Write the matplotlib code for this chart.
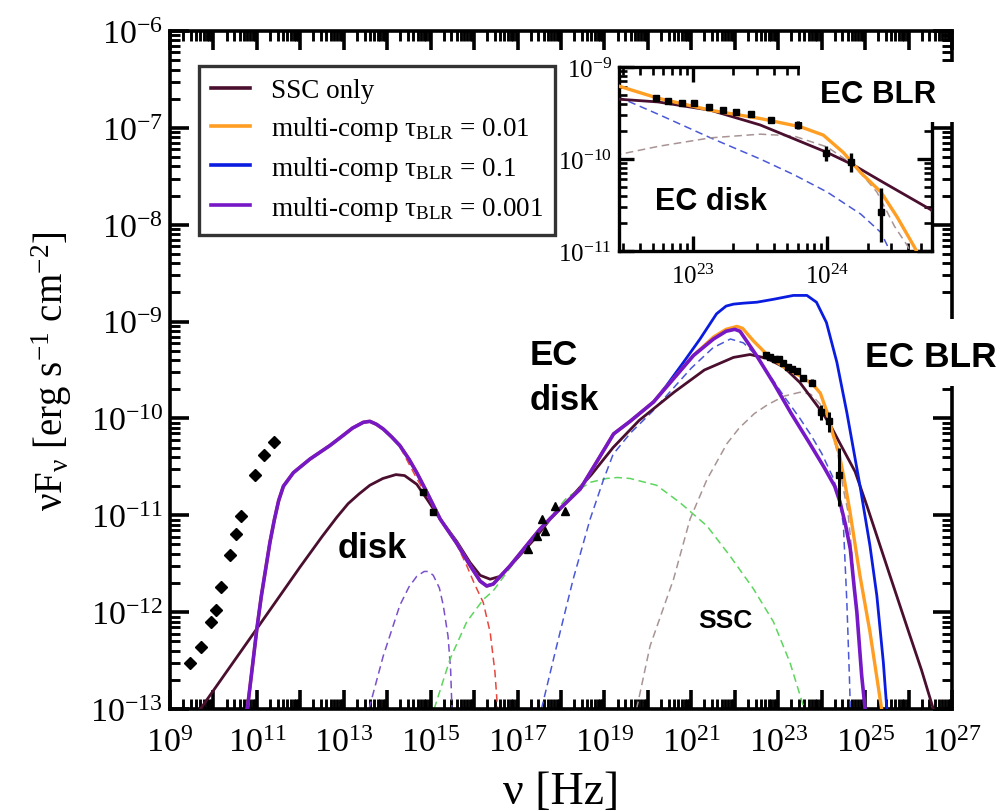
import numpy as np
import matplotlib
matplotlib.use("Agg")
import matplotlib.pyplot as plt
from matplotlib.ticker import FixedLocator, FuncFormatter, NullFormatter, LogLocator
from matplotlib.patches import Rectangle

plt.rcParams['font.family'] = ['Liberation Serif', 'DejaVu Serif']
plt.rcParams['mathtext.fontset'] = 'custom'
plt.rcParams['mathtext.rm'] = 'Liberation Serif'
plt.rcParams['mathtext.it'] = 'Liberation Serif:italic'
plt.rcParams['mathtext.bf'] = 'Liberation Serif:bold'

# ---------------------------------------------------------------- data (log10 values)
# SSC-only model
ssc_lx = [9.70, 11.00, 12.00, 12.50, 12.84, 13.10, 13.35, 13.60, 13.90, 14.20, 14.40, 14.68,
          14.91, 15.22, 15.60, 15.91, 16.14, 16.37, 16.60, 16.98, 17.40, 17.75, 18.20, 18.70,
          19.20, 19.80, 20.60, 21.30, 21.97, 22.35, 22.74, 23.13, 23.50, 24.00, 24.20, 24.40,
          24.77, 25.04, 25.57, 26.00, 26.30, 26.57]
ssc_ly = [-13.00, -12.17, -11.53, -11.22, -11.02, -10.88, -10.78, -10.69, -10.62, -10.58, -10.59, -10.68,
          -10.83, -11.04, -11.27, -11.49, -11.62, -11.66, -11.63, -11.45, -11.24, -11.04, -10.83, -10.58,
          -10.30, -10.02, -9.73, -9.50, -9.37, -9.34, -9.38, -9.47, -9.63, -9.93, -10.07, -10.24,
          -10.55, -10.90, -11.62, -12.20, -12.60, -13.00]

# multi-component model, tau_BLR = 0.001
t001_lx = [10.78, 10.90, 11.00, 11.10, 11.20, 11.30, 11.40, 11.50, 11.61, 11.84, 12.22, 12.68,
           13.00, 13.20, 13.45, 13.60, 13.75, 13.91, 14.10, 14.29, 14.50, 14.68, 14.91, 15.22,
           15.60, 15.91, 16.14, 16.29, 16.44, 16.83, 17.21, 17.52, 17.98, 18.44, 18.82, 19.21,
           19.59, 20.13, 20.59, 21.05, 21.51, 21.80, 22.00, 22.12, 22.50, 22.90, 23.30, 23.70,
           24.05, 24.30, 24.42, 24.55, 24.66, 24.75, 24.81, 24.92, 25.00]
t001_ly = [-13.00, -12.55, -12.17, -11.84, -11.56, -11.28, -11.05, -10.85, -10.70, -10.56, -10.42, -10.28,
           -10.17, -10.10, -10.04, -10.03, -10.06, -10.11, -10.19, -10.28, -10.42, -10.56, -10.76, -11.04,
           -11.29, -11.52, -11.68, -11.73, -11.71, -11.52, -11.31, -11.14, -10.93, -10.73, -10.45, -10.16,
           -10.03, -9.83, -9.59, -9.35, -9.18, -9.10, -9.08, -9.10, -9.35, -9.64, -9.95, -10.24,
           -10.50, -10.70, -10.86, -11.10, -11.35, -11.75, -12.00, -12.65, -13.00]

# multi-component model, tau_BLR = 0.01
t01_lx = [10.78, 10.90, 11.00, 11.10, 11.20, 11.30, 11.40, 11.50, 11.61, 11.84, 12.22, 12.68,
          13.00, 13.20, 13.45, 13.60, 13.75, 13.91, 14.10, 14.29, 14.50, 14.68, 14.91, 15.22,
          15.60, 15.91, 16.14, 16.29, 16.44, 16.83, 17.21, 17.52, 17.98, 18.44, 18.82, 19.21,
          19.59, 20.13, 20.59, 21.05, 21.51, 21.80, 22.05, 22.18, 22.43, 22.74, 23.13, 23.50,
          23.80, 23.97, 24.12, 24.25, 24.40, 24.52, 24.65, 24.88, 25.11, 25.38]
t01_ly = [-13.00, -12.55, -12.17, -11.84, -11.56, -11.28, -11.05, -10.85, -10.70, -10.56, -10.42, -10.28,
          -10.17, -10.10, -10.04, -10.03, -10.06, -10.11, -10.19, -10.28, -10.42, -10.56, -10.76, -11.04,
          -11.29, -11.52, -11.68, -11.73, -11.71, -11.52, -11.31, -11.14, -10.93, -10.73, -10.45, -10.16,
          -10.03, -9.83, -9.59, -9.35, -9.16, -9.08, -9.05, -9.07, -9.20, -9.34, -9.47, -9.56,
          -9.65, -9.74, -9.93, -10.15, -10.36, -10.63, -10.96, -11.62, -12.20, -13.00]

# multi-component model, tau_BLR = 0.1
t1_lx = [10.78, 10.90, 11.00, 11.10, 11.20, 11.30, 11.40, 11.50, 11.61, 11.84, 12.22, 12.68,
         13.00, 13.20, 13.45, 13.60, 13.75, 13.91, 14.10, 14.29, 14.50, 14.68, 14.91, 15.22,
         15.60, 15.91, 16.14, 16.29, 16.44, 16.83, 17.21, 17.52, 17.98, 18.44, 18.82, 19.21,
         19.59, 20.13, 20.43, 20.82, 21.20, 21.58, 21.80, 21.97, 22.20, 22.51, 22.89, 23.35,
         23.66, 23.88, 24.11, 24.35, 24.58, 24.88, 25.11, 25.27, 25.42, 25.50]
t1_ly = [-13.00, -12.55, -12.17, -11.84, -11.56, -11.28, -11.05, -10.85, -10.70, -10.56, -10.42, -10.28,
         -10.17, -10.10, -10.04, -10.03, -10.06, -10.11, -10.19, -10.28, -10.42, -10.56, -10.76, -11.04,
         -11.29, -11.52, -11.68, -11.73, -11.71, -11.52, -11.31, -11.14, -10.93, -10.73, -10.45, -10.16,
         -10.03, -9.83, -9.66, -9.42, -9.18, -8.92, -8.84, -8.82, -8.81, -8.80, -8.77, -8.73,
         -8.73, -8.80, -9.01, -9.42, -9.94, -10.69, -11.31, -11.83, -12.52, -13.00]

# model components (dashed)
disk_lx = [13.58, 13.91, 14.29, 14.50, 14.68, 14.85, 14.95, 15.06, 15.20, 15.29, 15.40, 15.46, 15.49]
disk_ly = [-13.00, -12.45, -11.93, -11.74, -11.63, -11.58, -11.58, -11.62, -11.75, -11.93, -12.25, -12.60, -13.00]

sync_lx = [14.30, 14.68, 14.91, 15.22, 15.60, 15.83, 16.00, 16.21, 16.37, 16.48, 16.54]
sync_ly = [-10.30, -10.62, -10.80, -11.04, -11.30, -11.52, -11.70, -11.90, -12.21, -12.62, -13.00]

sscc_lx = [15.08, 15.45, 15.83, 16.21, 16.44, 16.80, 17.20, 17.60, 18.13, 18.67, 19.05, 19.30,
           19.59, 20.20, 20.74, 21.36, 21.89, 22.43, 22.89, 23.27, 23.60]
sscc_ly = [-13.00, -12.48, -12.10, -11.87, -11.78, -11.56, -11.33, -11.10, -10.82, -10.66, -10.62, -10.61,
           -10.62, -10.69, -10.87, -11.11, -11.42, -11.76, -12.10, -12.52, -13.00]

ecd_lx = [17.55, 17.90, 18.28, 18.67, 18.98, 19.20, 19.60, 20.10, 20.60, 21.00, 21.50, 21.90,
          22.20, 22.45, 22.75, 23.13, 23.50, 23.75, 24.00, 24.25, 24.40, 24.50, 24.58, 24.64, 24.66]
ecd_ly = [-13.00, -12.35, -11.66, -11.04, -10.63, -10.37, -10.15, -9.93, -9.68, -9.48, -9.27, -9.18,
          -9.22, -9.33, -9.52, -9.77, -10.00, -10.17, -10.36, -10.60, -10.80, -11.10, -11.90, -12.69, -13.00]

blr_lx = [19.74, 20.05, 20.59, 20.97, 21.36, 21.82, 22.10, 22.45, 22.75, 23.13, 23.50, 23.75,
          24.00, 24.20, 24.37, 24.50, 24.60, 24.68, 24.81, 24.92, 25.00]
blr_ly = [-13.00, -12.35, -11.66, -11.04, -10.63, -10.26, -10.10, -9.95, -9.86, -9.77, -9.73, -9.75,
          -9.87, -10.07, -10.36, -10.73, -10.95, -11.31, -12.00, -12.69, -13.00]

# observations
radio_lx = [9.46, 9.71, 9.94, 10.05, 10.17, 10.38, 10.52, 10.63, 10.96, 11.17, 11.40]
radio_ly = [-12.52, -12.36, -12.10, -11.98, -11.74, -11.41, -11.19, -11.01, -10.58, -10.38, -10.24]
opt_lx = [14.83, 15.06]
opt_ly = [-10.76, -10.97]
xray_lx = [17.24, 17.45, 17.56, 17.63, 17.86, 18.09]
xray_ly = [-11.35, -11.21, -11.04, -11.16, -10.90, -10.96]
gam_lx = [22.72, 22.81, 22.92, 23.01, 23.12, 23.22, 23.32, 23.43, 23.58, 23.78, 23.99, 24.18, 24.40]
gam_ly = [-9.34, -9.37, -9.39, -9.39, -9.43, -9.47, -9.49, -9.51, -9.58, -9.63, -9.93, -10.03, -10.58]
gam_dlo = [0.03, 0.03, 0.03, 0.03, 0.03, 0.03, 0.03, 0.03, 0.03, 0.04, 0.09, 0.11, 0.32]
gam_dhi = [0.03, 0.03, 0.03, 0.03, 0.03, 0.03, 0.03, 0.03, 0.03, 0.04, 0.07, 0.10, 0.27]

legend_labels = ['SSC only',
                 r'multi-comp τ$_{\mathregular{BLR}}$ = 0.01',
                 r'multi-comp τ$_{\mathregular{BLR}}$ = 0.1',
                 r'multi-comp τ$_{\mathregular{BLR}}$ = 0.001']
x_tick_exp = [9, 11, 13, 15, 17, 19, 21, 23, 25, 27]
y_tick_exp = [-13, -12, -11, -10, -9, -8, -7, -6]
inset_x_exp = [23, 24]
inset_y_exp = [-11, -10, -9]

# ---------------------------------------------------------------- styling
C_SSC = '#4a0f2e'
C_T01 = '#ff9e22'
C_T1 = '#0a1ce0'
C_T001 = '#7618c6'
C_DISK = '#7a50cc'
C_SYNC = '#e8463c'
C_SSCC = '#5cd65c'
C_ECD = '#4a58d8'
C_BLR = '#a89494'

W, H = 1003, 812
fig = plt.figure(figsize=(W / 100, H / 100), dpi=100)


def fx(p):
    return p / W


def fy(p):
    return 1 - p / H


def pw(v):
    return 10.0 ** np.asarray(v, dtype=float)


def tex_pow(e):
    return r'$\mathregular{10^{%d}}$' % e


def style_axes(a, maj, mnr, lw, lsize, xpad, ypad):
    for s in a.spines.values():
        s.set_linewidth(lw)
    a.tick_params(which='both', direction='in', top=True, right=True)
    a.tick_params(which='major', length=maj, width=lw, labelsize=lsize)
    a.tick_params(which='minor', length=mnr, width=lw * 0.8)
    a.tick_params(axis='x', which='major', pad=xpad)
    a.tick_params(axis='y', which='major', pad=ypad)


ax = fig.add_axes([fx(170), fy(710), fx(952) - fx(170), fy(32) - fy(710)])
ax.set_xscale('log')
ax.set_yscale('log')
ax.set_xlim(1e9, 1e27)
ax.set_ylim(1e-13, 1e-6)

dash = (0, (5, 3))
ax.plot(pw(disk_lx), pw(disk_ly), color=C_DISK, lw=1.1, ls=dash, zorder=2)
ax.plot(pw(sync_lx), pw(sync_ly), color=C_SYNC, lw=1.1, ls=dash, zorder=2)
ax.plot(pw(sscc_lx), pw(sscc_ly), color=C_SSCC, lw=1.1, ls=dash, zorder=2)
ax.plot(pw(ecd_lx), pw(ecd_ly), color=C_ECD, lw=1.1, ls=dash, zorder=2)
ax.plot(pw(blr_lx), pw(blr_ly), color=C_BLR, lw=1.1, ls=dash, zorder=2)

l_ssc, = ax.plot(pw(ssc_lx), pw(ssc_ly), color=C_SSC, lw=2.0, zorder=3)
l_t1, = ax.plot(pw(t1_lx), pw(t1_ly), color=C_T1, lw=2.0, zorder=3)
l_t01, = ax.plot(pw(t01_lx), pw(t01_ly), color=C_T01, lw=2.4, zorder=3)
l_t001, = ax.plot(pw(t001_lx), pw(t001_ly), color=C_T001, lw=2.6, zorder=4)

ax.plot(pw(radio_lx), pw(radio_ly), 'D', color='black', ms=6.5, zorder=6)
ax.plot(pw(opt_lx), pw(opt_ly), 's', color='black', ms=5, zorder=6)
ax.plot(pw(xray_lx), pw(xray_ly), '^', color='black', ms=6, zorder=6)
gy = pw(gam_ly)
g_err = [gy - pw(np.array(gam_ly) - np.array(gam_dlo)), pw(np.array(gam_ly) + np.array(gam_dhi)) - gy]
ax.errorbar(pw(gam_lx), gy, yerr=g_err, fmt='s', color='black', ms=4, elinewidth=2.2,
            capsize=0, zorder=6)

ax.xaxis.set_major_locator(FixedLocator(pw(np.arange(9, 28))))
ax.xaxis.set_major_formatter(FuncFormatter(
    lambda v, p: tex_pow(int(round(np.log10(v)))) if int(round(np.log10(v))) in x_tick_exp else ''))
ax.xaxis.set_minor_locator(LogLocator(base=10, subs=np.arange(2, 10), numticks=200))
ax.xaxis.set_minor_formatter(NullFormatter())
ax.yaxis.set_major_locator(FixedLocator(pw(y_tick_exp)))
ax.yaxis.set_major_formatter(FuncFormatter(lambda v, p: tex_pow(int(round(np.log10(v))))))
ax.yaxis.set_minor_locator(LogLocator(base=10, subs=np.arange(2, 10), numticks=200))
ax.yaxis.set_minor_formatter(NullFormatter())
style_axes(ax, 14, 7, 2.6, 24.5, 13, 5)

ax.set_xlabel('ν [Hz]', fontsize=33, labelpad=9)
ax.set_ylabel(r'νF$_{\mathregular{ν}}$ [erg s$^{\mathregular{-1}}$ cm$^{\mathregular{-2}}$]', fontsize=28, labelpad=12)

leg = ax.legend([l_ssc, l_t01, l_t1, l_t001], legend_labels, loc='upper left',
                bbox_to_anchor=((199 - 170) / 782, (710 - 67) / 678), borderaxespad=0,
                frameon=True, fancybox=False, edgecolor='black', fontsize=19.5,
                handlelength=1.45, handletextpad=0.75, borderpad=0.45, labelspacing=0.4)
leg.get_frame().set_linewidth(2.4)
for h in leg.get_lines():
    h.set_linewidth(2.6)

# annotations
sans = dict(family=['Liberation Sans', 'DejaVu Sans'], weight='bold', color='black')
fig.text(fx(372), fy(558), 'disk', fontsize=25, ha='center', va='baseline', **sans)
fig.text(fx(530), fy(365), 'EC', fontsize=25, ha='left', va='baseline', **sans)
fig.text(fx(530), fy(410), 'disk', fontsize=25, ha='left', va='baseline', **sans)
fig.text(fx(725), fy(628), 'SSC', fontsize=19, ha='center', va='baseline', **sans)

fig.patches.append(Rectangle((fx(853), fy(387)), fx(1003) - fx(853), fy(320) - fy(387),
                             transform=fig.transFigure, facecolor='white', edgecolor='none', zorder=5))
fig.text(fx(865), fy(367), 'EC BLR', fontsize=25.5, ha='left', va='baseline', zorder=6, **sans)

# inset: gamma-ray zoom
axi = fig.add_axes([fx(619), fy(252), fx(932) - fx(619), fy(68) - fy(252)], zorder=3)
axi.set_xscale('log')
axi.set_yscale('log')
axi.set_xlim(10 ** 22.448, 10 ** 24.78)
axi.set_ylim(1e-11, 1e-9)
axi.plot(pw(ecd_lx), pw(ecd_ly), color=C_ECD, lw=1.1, ls=dash, zorder=2)
axi.plot(pw(blr_lx), pw(blr_ly), color=C_BLR, lw=1.1, ls=dash, zorder=2)
axi.plot(pw(ssc_lx), pw(ssc_ly), color=C_SSC, lw=2.0, zorder=3)
axi.plot(pw(t01_lx), pw(t01_ly), color=C_T01, lw=2.4, zorder=4)
axi.errorbar(pw(gam_lx), gy, yerr=g_err, fmt='s', color='black', ms=4.5, elinewidth=2.4,
             capsize=0, zorder=6)
axi.xaxis.set_major_locator(FixedLocator(pw(inset_x_exp)))
axi.xaxis.set_major_formatter(FuncFormatter(lambda v, p: tex_pow(int(round(np.log10(v))))))
axi.xaxis.set_minor_locator(LogLocator(base=10, subs=np.arange(2, 10), numticks=50))
axi.xaxis.set_minor_formatter(NullFormatter())
axi.yaxis.set_major_locator(FixedLocator(pw(inset_y_exp)))
axi.yaxis.set_major_formatter(FuncFormatter(lambda v, p: tex_pow(int(round(np.log10(v))))))
axi.yaxis.set_minor_locator(LogLocator(base=10, subs=np.arange(2, 10), numticks=50))
axi.yaxis.set_minor_formatter(NullFormatter())
style_axes(axi, 11, 6, 2.4, 18, 9, 5)
axi.text(fx(655), fy(210), 'EC disk', transform=fig.transFigure, fontsize=22,
         ha='left', va='baseline', **sans)

fig.patches.append(Rectangle((fx(800), fy(123)), fx(960) - fx(800), fy(63) - fy(123),
                             transform=fig.transFigure, facecolor='white', edgecolor='none', zorder=5))
fig.text(fx(820), fy(103), 'EC BLR', fontsize=22.5, ha='left', va='baseline', zorder=6, **sans)

fig.savefig('out.png', dpi=100)
